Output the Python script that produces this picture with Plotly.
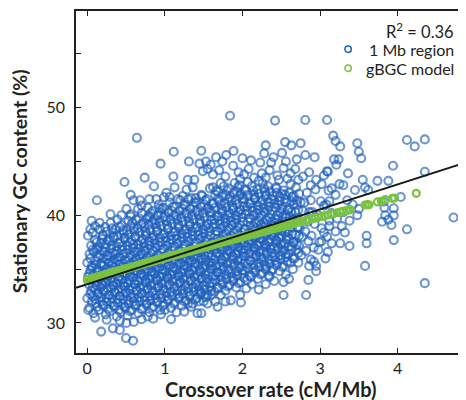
import plotly.graph_objects as go

# ---------------- data ----------------
# dense core of 1 Mb regions, stored column by column: (x values, y values)
core_cols = [
    ([0.03, 0.00, 0.05, 0.02, 0.01, 0.04, 0.00, 0.03, 0.05, 0.01],
     [31.4, 32.3, 33.0, 33.6, 34.3, 34.9, 35.6, 36.4, 37.2, 38.1]),
    ([0.08, 0.11, 0.07, 0.10, 0.12, 0.08, 0.06, 0.11, 0.09, 0.12, 0.07],
     [30.9, 31.8, 32.5, 33.1, 33.8, 34.5, 35.1, 35.8, 36.6, 37.5, 38.4]),
    ([0.15, 0.18, 0.14, 0.17, 0.19, 0.15, 0.13, 0.18, 0.16, 0.14, 0.19, 0.16],
     [31.2, 32.0, 32.7, 33.3, 33.9, 34.4, 35.0, 35.6, 36.3, 37.0, 37.8, 38.7]),
    ([0.24, 0.21, 0.25, 0.22, 0.20, 0.26, 0.23, 0.21, 0.25, 0.22, 0.24, 0.20, 0.23],
     [30.8, 31.6, 32.3, 32.9, 33.5, 34.1, 34.7, 35.3, 35.9, 36.6, 37.3, 38.1, 38.9]),
    ([0.29, 0.32, 0.28, 0.31, 0.33, 0.27, 0.30, 0.32, 0.28, 0.31, 0.29, 0.33, 0.30],
     [31.1, 31.9, 32.6, 33.2, 33.8, 34.4, 35.0, 35.6, 36.2, 36.9, 37.6, 38.4, 39.3]),
    ([0.38, 0.35, 0.39, 0.36, 0.34, 0.40, 0.37, 0.35, 0.39, 0.36, 0.38, 0.34, 0.37, 0.39],
     [30.6, 31.5, 32.2, 32.8, 33.4, 34.0, 34.6, 35.2, 35.8, 36.4, 37.1, 37.9, 38.7, 39.6]),
    ([0.43, 0.46, 0.42, 0.45, 0.47, 0.41, 0.44, 0.46, 0.42, 0.45, 0.43, 0.47, 0.44],
     [31.0, 31.8, 32.5, 33.1, 33.7, 34.3, 34.9, 35.5, 36.1, 36.8, 37.5, 38.3, 39.1]),
    ([0.52, 0.49, 0.53, 0.50, 0.48, 0.54, 0.51, 0.49, 0.53, 0.50, 0.52, 0.48, 0.51, 0.53],
     [30.7, 31.4, 32.1, 32.8, 33.4, 34.0, 34.6, 35.2, 35.8, 36.5, 37.2, 37.9, 38.6, 39.5]),
    ([0.57, 0.60, 0.56, 0.59, 0.61, 0.55, 0.58, 0.60, 0.56, 0.59, 0.57, 0.61, 0.58, 0.56],
     [31.2, 32.0, 32.7, 33.3, 33.9, 34.5, 35.1, 35.7, 36.3, 37.0, 37.7, 38.5, 39.3, 40.1]),
    ([0.66, 0.63, 0.67, 0.64, 0.62, 0.68, 0.65, 0.63, 0.67, 0.64, 0.66, 0.62, 0.65, 0.67],
     [30.9, 31.7, 32.4, 33.0, 33.6, 34.2, 34.8, 35.4, 36.0, 36.6, 37.3, 38.0, 38.8, 39.7]),
    ([0.71, 0.74, 0.70, 0.73, 0.75, 0.69, 0.72, 0.74, 0.70, 0.73, 0.71, 0.75, 0.72, 0.70],
     [31.3, 32.1, 32.8, 33.4, 34.0, 34.6, 35.2, 35.8, 36.4, 37.1, 37.8, 38.5, 39.3, 40.2]),
    ([0.80, 0.77, 0.81, 0.78, 0.76, 0.82, 0.79, 0.77, 0.81, 0.78, 0.80, 0.76, 0.79, 0.81, 0.78],
     [31.0, 31.8, 32.5, 33.2, 33.8, 34.4, 35.0, 35.6, 36.2, 36.9, 37.6, 38.3, 39.1, 39.9, 40.7]),
    ([0.85, 0.88, 0.84, 0.87, 0.89, 0.83, 0.86, 0.88, 0.84, 0.87, 0.85, 0.89, 0.86, 0.84],
     [31.5, 32.3, 33.0, 33.6, 34.2, 34.8, 35.4, 36.0, 36.7, 37.4, 38.1, 38.9, 39.6, 40.4]),
    ([0.94, 0.91, 0.95, 0.92, 0.90, 0.96, 0.93, 0.91, 0.95, 0.92, 0.94, 0.90, 0.93, 0.95, 0.92],
     [31.2, 32.0, 32.7, 33.4, 34.0, 34.6, 35.2, 35.8, 36.5, 37.2, 37.9, 38.6, 39.4, 40.2, 41.0]),
    ([0.99, 1.02, 0.98, 1.01, 1.03, 0.97, 1.00, 1.02, 0.98, 1.01, 0.99, 1.03, 1.00, 0.98],
     [31.7, 32.5, 33.2, 33.8, 34.4, 35.0, 35.6, 36.2, 36.9, 37.6, 38.3, 39.1, 39.9, 40.7]),
    ([1.08, 1.05, 1.09, 1.06, 1.04, 1.10, 1.07, 1.05, 1.09, 1.06, 1.08, 1.04, 1.07, 1.09, 1.06],
     [31.4, 32.2, 32.9, 33.6, 34.2, 34.8, 35.4, 36.0, 36.7, 37.4, 38.1, 38.8, 39.6, 40.4, 41.2]),
    ([1.13, 1.16, 1.12, 1.15, 1.17, 1.11, 1.14, 1.16, 1.12, 1.15, 1.13, 1.17, 1.14, 1.12],
     [31.9, 32.7, 33.4, 34.0, 34.6, 35.2, 35.8, 36.4, 37.1, 37.8, 38.5, 39.2, 40.0, 40.8]),
    ([1.22, 1.19, 1.23, 1.20, 1.18, 1.24, 1.21, 1.19, 1.23, 1.20, 1.22, 1.18, 1.21, 1.23, 1.20],
     [31.6, 32.4, 33.1, 33.8, 34.4, 35.0, 35.6, 36.2, 36.9, 37.6, 38.3, 39.0, 39.8, 40.6, 41.4]),
    ([1.27, 1.30, 1.26, 1.29, 1.31, 1.25, 1.28, 1.30, 1.26, 1.29, 1.27, 1.31, 1.28, 1.26],
     [32.1, 32.9, 33.6, 34.2, 34.8, 35.4, 36.0, 36.6, 37.3, 38.0, 38.7, 39.4, 40.2, 41.0]),
    ([1.36, 1.33, 1.37, 1.34, 1.32, 1.38, 1.35, 1.33, 1.37, 1.34, 1.36, 1.32, 1.35, 1.37, 1.34],
     [31.8, 32.6, 33.3, 34.0, 34.6, 35.2, 35.8, 36.4, 37.1, 37.8, 38.5, 39.2, 40.0, 40.8, 41.6]),
    ([1.41, 1.44, 1.40, 1.43, 1.45, 1.39, 1.42, 1.44, 1.40, 1.43, 1.41, 1.45, 1.42, 1.40],
     [32.3, 33.1, 33.8, 34.4, 35.0, 35.6, 36.2, 36.8, 37.5, 38.2, 38.9, 39.6, 40.4, 41.2]),
    ([1.50, 1.47, 1.51, 1.48, 1.46, 1.52, 1.49, 1.47, 1.51, 1.48, 1.50, 1.46, 1.49, 1.51, 1.48],
     [32.0, 32.8, 33.5, 34.2, 34.8, 35.4, 36.0, 36.6, 37.3, 38.0, 38.7, 39.4, 40.2, 41.0, 41.8]),
    ([1.55, 1.58, 1.54, 1.57, 1.59, 1.53, 1.56, 1.58, 1.54, 1.57, 1.55, 1.59, 1.56, 1.54],
     [32.6, 33.4, 34.1, 34.7, 35.3, 35.9, 36.5, 37.1, 37.8, 38.5, 39.2, 39.9, 40.7, 41.5]),
    ([1.64, 1.61, 1.65, 1.62, 1.60, 1.66, 1.63, 1.61, 1.65, 1.62, 1.64, 1.60, 1.63, 1.65, 1.62],
     [32.9, 33.7, 34.4, 35.0, 35.6, 36.2, 36.8, 37.5, 38.2, 38.9, 39.6, 40.3, 41.1, 41.9, 42.6]),
    ([1.69, 1.72, 1.68, 1.71, 1.73, 1.67, 1.70, 1.72, 1.68, 1.71, 1.69, 1.73, 1.70, 1.68],
     [33.2, 34.0, 34.7, 35.3, 35.9, 36.5, 37.1, 37.8, 38.5, 39.2, 39.9, 40.6, 41.4, 42.2]),
    ([1.78, 1.75, 1.79, 1.76, 1.74, 1.80, 1.77, 1.75, 1.79, 1.76, 1.78, 1.74, 1.77, 1.79, 1.76],
     [33.0, 33.8, 34.5, 35.2, 35.8, 36.4, 37.0, 37.6, 38.3, 39.0, 39.7, 40.4, 41.1, 41.9, 42.7]),
    ([1.83, 1.86, 1.82, 1.85, 1.87, 1.81, 1.84, 1.86, 1.82, 1.85, 1.83, 1.87, 1.84, 1.82],
     [33.5, 34.3, 35.0, 35.6, 36.2, 36.8, 37.4, 38.1, 38.8, 39.5, 40.2, 40.9, 41.7, 42.5]),
    ([1.92, 1.89, 1.93, 1.90, 1.88, 1.94, 1.91, 1.89, 1.93, 1.90, 1.92, 1.88, 1.91, 1.93, 1.90],
     [33.3, 34.1, 34.8, 35.5, 36.1, 36.7, 37.3, 37.9, 38.6, 39.3, 40.0, 40.7, 41.4, 42.2, 43.0]),
    ([1.97, 2.00, 1.96, 1.99, 2.01, 1.95, 1.98, 2.00, 1.96, 1.99, 1.97, 2.01, 1.98, 1.96],
     [33.8, 34.6, 35.3, 35.9, 36.5, 37.1, 37.7, 38.4, 39.1, 39.8, 40.5, 41.2, 42.0, 42.8]),
    ([2.06, 2.03, 2.07, 2.04, 2.02, 2.08, 2.05, 2.03, 2.07, 2.04, 2.06, 2.02, 2.05, 2.07],
     [34.0, 34.8, 35.5, 36.2, 36.8, 37.4, 38.0, 38.7, 39.4, 40.1, 40.8, 41.5, 42.3, 43.1]),
    ([2.11, 2.14, 2.10, 2.13, 2.15, 2.09, 2.12, 2.14, 2.10, 2.13, 2.11, 2.15, 2.12],
     [34.3, 35.1, 35.8, 36.4, 37.0, 37.6, 38.3, 39.0, 39.7, 40.4, 41.1, 41.9, 42.7]),
    ([2.20, 2.17, 2.21, 2.18, 2.16, 2.22, 2.19, 2.17, 2.21, 2.18, 2.20, 2.16, 2.19, 2.21],
     [34.1, 34.9, 35.6, 36.3, 36.9, 37.5, 38.1, 38.8, 39.5, 40.2, 40.9, 41.6, 42.4, 43.2]),
    ([2.25, 2.28, 2.24, 2.27, 2.29, 2.23, 2.26, 2.28, 2.24, 2.27, 2.25, 2.29, 2.26],
     [34.6, 35.4, 36.1, 36.7, 37.3, 37.9, 38.6, 39.3, 40.0, 40.7, 41.4, 42.2, 43.0]),
    ([2.34, 2.31, 2.35, 2.32, 2.30, 2.36, 2.33, 2.31, 2.35, 2.32, 2.34, 2.30, 2.33],
     [34.4, 35.2, 35.9, 36.6, 37.2, 37.8, 38.4, 39.1, 39.8, 40.5, 41.2, 41.9, 42.7]),
    ([2.39, 2.42, 2.38, 2.41, 2.43, 2.37, 2.40, 2.42, 2.38, 2.41, 2.39, 2.43],
     [35.0, 35.8, 36.5, 37.1, 37.7, 38.3, 39.0, 39.7, 40.4, 41.1, 41.8, 42.6]),
    ([2.48, 2.45, 2.49, 2.46, 2.44, 2.50, 2.47, 2.45, 2.49, 2.46, 2.48, 2.44, 2.47],
     [34.8, 35.6, 36.3, 37.0, 37.6, 38.2, 38.9, 39.6, 40.3, 41.0, 41.7, 42.5, 43.3]),
    ([2.53, 2.56, 2.52, 2.55, 2.57, 2.51, 2.54, 2.56, 2.52, 2.55, 2.53],
     [35.3, 36.1, 36.8, 37.4, 38.0, 38.7, 39.4, 40.1, 40.8, 41.5, 42.3]),
    ([2.62, 2.59, 2.63, 2.60, 2.58, 2.64, 2.61, 2.59, 2.63, 2.60, 2.62],
     [35.6, 36.4, 37.1, 37.8, 38.5, 39.2, 39.9, 40.6, 41.3, 42.1, 42.9]),
    ([2.67, 2.70, 2.66, 2.69, 2.71, 2.65, 2.68, 2.70, 2.66, 2.69],
     [36.0, 36.8, 37.5, 38.2, 38.9, 39.6, 40.3, 41.0, 41.8, 42.6]),
    ([2.76, 2.73, 2.77, 2.74, 2.72, 2.78, 2.75, 2.73],
     [36.3, 37.2, 38.0, 38.8, 39.6, 40.4, 41.2, 42.0]),
    ([2.82, 2.85, 2.81, 2.84, 2.86, 2.80, 2.83],
     [36.7, 37.6, 38.5, 39.4, 40.3, 41.2, 42.1]),
    ([2.92, 2.89, 2.93, 2.90, 2.88, 2.94],
     [37.0, 38.1, 39.2, 40.3, 41.4, 42.4]),
    ([2.99, 3.02, 2.98, 3.01], [37.5, 38.8, 40.0, 41.3]),
    ([3.09, 3.12, 3.08, 3.11], [38.0, 39.5, 41.0, 42.3]),
]

# further regions packed inside the darkest part of the cloud
fill_cols = [
    ([0.06, 0.04, 0.07, 0.05, 0.03, 0.06, 0.04, 0.07],
     [32.0, 32.7, 33.3, 34.0, 34.6, 35.3, 36.0, 36.8]),
    ([0.13, 0.11, 0.14, 0.12, 0.10, 0.13, 0.11, 0.14, 0.12, 0.10],
     [31.5, 32.2, 32.8, 33.5, 34.1, 34.8, 35.4, 36.1, 36.9, 37.7]),
    ([0.20, 0.18, 0.21, 0.19, 0.17, 0.20, 0.18, 0.21, 0.19, 0.17, 0.20],
     [31.7, 32.4, 33.0, 33.6, 34.2, 34.8, 35.4, 36.0, 36.7, 37.4, 38.2]),
    ([0.27, 0.25, 0.28, 0.26, 0.24, 0.27, 0.25, 0.28, 0.26, 0.24, 0.27, 0.25],
     [31.3, 32.0, 32.6, 33.2, 33.8, 34.4, 35.0, 35.6, 36.3, 37.0, 37.7, 38.5]),
    ([0.34, 0.32, 0.35, 0.33, 0.31, 0.34, 0.32, 0.35, 0.33, 0.31, 0.34, 0.32],
     [31.6, 32.3, 32.9, 33.5, 34.1, 34.7, 35.3, 35.9, 36.5, 37.2, 38.0, 38.8]),
    ([0.41, 0.39, 0.42, 0.40, 0.38, 0.41, 0.39, 0.42, 0.40, 0.38, 0.41, 0.39, 0.42],
     [31.2, 31.9, 32.5, 33.1, 33.7, 34.3, 34.9, 35.5, 36.1, 36.7, 37.4, 38.1, 38.9]),
    ([0.48, 0.46, 0.49, 0.47, 0.45, 0.48, 0.46, 0.49, 0.47, 0.45, 0.48, 0.46],
     [31.5, 32.2, 32.8, 33.4, 34.0, 34.6, 35.2, 35.8, 36.4, 37.1, 37.8, 38.6]),
    ([0.55, 0.53, 0.56, 0.54, 0.52, 0.55, 0.53, 0.56, 0.54, 0.52, 0.55, 0.53, 0.56],
     [31.1, 31.8, 32.4, 33.1, 33.7, 34.3, 34.9, 35.5, 36.1, 36.8, 37.5, 38.2, 39.0]),
    ([0.62, 0.60, 0.63, 0.61, 0.59, 0.62, 0.60, 0.63, 0.61, 0.59, 0.62, 0.60, 0.63],
     [31.6, 32.3, 33.0, 33.6, 34.2, 34.8, 35.4, 36.0, 36.6, 37.3, 38.0, 38.8, 39.6]),
    ([0.69, 0.67, 0.70, 0.68, 0.66, 0.69, 0.67, 0.70, 0.68, 0.66, 0.69, 0.67, 0.70],
     [31.3, 32.0, 32.7, 33.3, 33.9, 34.5, 35.1, 35.7, 36.3, 36.9, 37.6, 38.4, 39.2]),
    ([0.76, 0.74, 0.77, 0.75, 0.73, 0.76, 0.74, 0.77, 0.75, 0.73, 0.76, 0.74, 0.77],
     [31.7, 32.4, 33.1, 33.7, 34.3, 34.9, 35.5, 36.1, 36.7, 37.4, 38.1, 38.9, 39.7]),
    ([0.83, 0.81, 0.84, 0.82, 0.80, 0.83, 0.81, 0.84, 0.82, 0.80, 0.83, 0.81, 0.84, 0.82],
     [31.4, 32.1, 32.8, 33.5, 34.1, 34.7, 35.3, 35.9, 36.5, 37.2, 37.9, 38.6, 39.4, 40.2]),
    ([0.90, 0.88, 0.91, 0.89, 0.87, 0.90, 0.88, 0.91, 0.89, 0.87, 0.90, 0.88, 0.91],
     [31.9, 32.6, 33.3, 33.9, 34.5, 35.1, 35.7, 36.3, 37.0, 37.7, 38.5, 39.2, 40.0]),
    ([0.97, 0.95, 0.98, 0.96, 0.94, 0.97, 0.95, 0.98, 0.96, 0.94, 0.97, 0.95, 0.98, 0.96],
     [31.6, 32.3, 33.0, 33.7, 34.3, 34.9, 35.5, 36.1, 36.8, 37.5, 38.2, 39.0, 39.8, 40.6]),
    ([1.04, 1.02, 1.05, 1.03, 1.01, 1.04, 1.02, 1.05, 1.03, 1.01, 1.04, 1.02, 1.05],
     [32.1, 32.8, 33.5, 34.1, 34.7, 35.3, 35.9, 36.5, 37.2, 37.9, 38.7, 39.5, 40.3]),
    ([1.11, 1.09, 1.12, 1.10, 1.08, 1.11, 1.09, 1.12, 1.10, 1.08, 1.11, 1.09, 1.12, 1.10],
     [31.8, 32.5, 33.2, 33.9, 34.5, 35.1, 35.7, 36.3, 37.0, 37.7, 38.4, 39.2, 40.0, 40.8]),
    ([1.18, 1.16, 1.19, 1.17, 1.15, 1.18, 1.16, 1.19, 1.17, 1.15, 1.18, 1.16, 1.19],
     [32.3, 33.0, 33.7, 34.3, 34.9, 35.5, 36.1, 36.7, 37.4, 38.1, 38.8, 39.6, 40.4]),
    ([1.25, 1.23, 1.26, 1.24, 1.22, 1.25, 1.23, 1.26, 1.24, 1.22, 1.25, 1.23, 1.26, 1.24],
     [32.0, 32.7, 33.4, 34.1, 34.7, 35.3, 35.9, 36.5, 37.2, 37.9, 38.6, 39.4, 40.2, 41.0]),
    ([1.32, 1.30, 1.33, 1.31, 1.29, 1.32, 1.30, 1.33, 1.31, 1.29, 1.32, 1.30, 1.33],
     [32.5, 33.2, 33.9, 34.5, 35.1, 35.7, 36.3, 36.9, 37.6, 38.3, 39.0, 39.8, 40.6]),
    ([1.39, 1.37, 1.40, 1.38, 1.36, 1.39, 1.37, 1.40, 1.38, 1.36, 1.39, 1.37, 1.40, 1.38],
     [32.2, 32.9, 33.6, 34.3, 34.9, 35.5, 36.1, 36.7, 37.4, 38.1, 38.8, 39.6, 40.4, 41.2]),
    ([1.46, 1.44, 1.47, 1.45, 1.43, 1.46, 1.44, 1.47, 1.45, 1.43, 1.46, 1.44, 1.47],
     [32.7, 33.4, 34.1, 34.7, 35.3, 35.9, 36.5, 37.1, 37.8, 38.5, 39.2, 40.0, 40.8]),
    ([1.53, 1.51, 1.54, 1.52, 1.50, 1.53, 1.51, 1.54, 1.52, 1.50, 1.53, 1.51, 1.54, 1.52],
     [32.4, 33.1, 33.8, 34.5, 35.1, 35.7, 36.3, 36.9, 37.6, 38.3, 39.0, 39.8, 40.6, 41.4]),
    ([1.60, 1.58, 1.61, 1.59, 1.57, 1.60, 1.58, 1.61, 1.59, 1.57, 1.60, 1.58, 1.61],
     [33.0, 33.7, 34.4, 35.0, 35.6, 36.2, 36.8, 37.4, 38.1, 38.8, 39.5, 40.3, 41.1]),
    ([1.67, 1.65, 1.68, 1.66, 1.64, 1.67, 1.65, 1.68, 1.66, 1.64, 1.67, 1.65, 1.68, 1.66],
     [33.3, 34.0, 34.7, 35.3, 35.9, 36.5, 37.1, 37.8, 38.5, 39.2, 39.9, 40.7, 41.5, 42.3]),
    ([1.74, 1.72, 1.75, 1.73, 1.71, 1.74, 1.72, 1.75, 1.73, 1.71, 1.74, 1.72, 1.75],
     [33.6, 34.3, 35.0, 35.6, 36.2, 36.8, 37.4, 38.1, 38.8, 39.5, 40.2, 41.0, 41.8]),
    ([1.81, 1.79, 1.82, 1.80, 1.78, 1.81, 1.79, 1.82, 1.80, 1.78, 1.81, 1.79, 1.82, 1.80],
     [33.4, 34.1, 34.8, 35.5, 36.1, 36.7, 37.3, 37.9, 38.6, 39.3, 40.0, 40.7, 41.5, 42.3]),
    ([1.88, 1.86, 1.89, 1.87, 1.85, 1.88, 1.86, 1.89, 1.87, 1.85, 1.88, 1.86, 1.89],
     [33.9, 34.6, 35.3, 35.9, 36.5, 37.1, 37.7, 38.4, 39.1, 39.8, 40.5, 41.3, 42.1]),
    ([1.95, 1.93, 1.96, 1.94, 1.92, 1.95, 1.93, 1.96, 1.94, 1.92, 1.95, 1.93, 1.96, 1.94],
     [33.7, 34.4, 35.1, 35.8, 36.4, 37.0, 37.6, 38.2, 38.9, 39.6, 40.3, 41.0, 41.8, 42.6]),
    ([2.02, 2.00, 2.03, 2.01, 1.99, 2.02, 2.00, 2.03, 2.01, 1.99, 2.02, 2.00, 2.03],
     [34.2, 34.9, 35.6, 36.2, 36.8, 37.4, 38.0, 38.7, 39.4, 40.1, 40.8, 41.6, 42.4]),
    ([2.09, 2.07, 2.10, 2.08, 2.06, 2.09, 2.07, 2.10, 2.08, 2.06, 2.09, 2.07],
     [34.4, 35.1, 35.8, 36.5, 37.1, 37.7, 38.3, 39.0, 39.7, 40.4, 41.1, 41.9]),
    ([2.16, 2.14, 2.17, 2.15, 2.13, 2.16, 2.14, 2.17, 2.15, 2.13, 2.16, 2.14],
     [34.7, 35.4, 36.1, 36.7, 37.3, 37.9, 38.6, 39.3, 40.0, 40.7, 41.5, 42.3]),
    ([2.23, 2.21, 2.24, 2.22, 2.20, 2.23, 2.21, 2.24, 2.22, 2.20, 2.23, 2.21],
     [34.5, 35.2, 35.9, 36.6, 37.2, 37.8, 38.4, 39.1, 39.8, 40.5, 41.2, 42.0]),
    ([2.30, 2.28, 2.31, 2.29, 2.27, 2.30, 2.28, 2.31, 2.29, 2.27, 2.30, 2.28],
     [35.0, 35.7, 36.4, 37.0, 37.6, 38.2, 38.9, 39.6, 40.3, 41.0, 41.8, 42.5]),
    ([2.37, 2.35, 2.38, 2.36, 2.34, 2.37, 2.35, 2.38, 2.36, 2.34, 2.37, 2.35],
     [34.8, 35.5, 36.2, 36.9, 37.5, 38.1, 38.7, 39.4, 40.1, 40.8, 41.5, 42.2]),
    ([2.44, 2.42, 2.45, 2.43, 2.41, 2.44, 2.42, 2.45, 2.43, 2.41, 2.44],
     [35.4, 36.1, 36.8, 37.4, 38.0, 38.6, 39.3, 40.0, 40.7, 41.4, 42.1]),
    ([2.51, 2.49, 2.52, 2.50, 2.48, 2.51, 2.49, 2.52, 2.50, 2.48, 2.51],
     [35.2, 35.9, 36.6, 37.3, 37.9, 38.5, 39.2, 39.9, 40.6, 41.3, 42.0]),
    ([2.58, 2.56, 2.59, 2.57, 2.55, 2.58, 2.56, 2.59, 2.57, 2.55],
     [35.7, 36.4, 37.1, 37.7, 38.4, 39.1, 39.8, 40.5, 41.2, 41.9]),
    ([2.65, 2.63, 2.66, 2.64, 2.62, 2.65, 2.63, 2.66, 2.64],
     [36.0, 36.8, 37.5, 38.2, 38.9, 39.6, 40.3, 41.0, 41.7]),
    ([2.72, 2.70, 2.73, 2.71, 2.69, 2.72, 2.70],
     [36.5, 37.3, 38.1, 38.9, 39.7, 40.5, 41.4]),
]

# sparse regions above the core
upper_pts = [
    (0.124, 41.4), (0.56, 41.9), (0.595, 41.4), (0.68, 41.4), (0.505, 40.6), (0.655, 40.6),
    (0.80, 41.5), (0.89, 41.5), (0.99, 41.7), (1.06, 41.7), (1.17, 41.5), (1.23, 41.8),
    (1.30, 41.5), (1.40, 41.6), (1.47, 41.9), (0.86, 42.7), (1.125, 42.6), (1.28, 42.4),
    (1.36, 42.6), (0.48, 43.1), (0.74, 43.5), (1.11, 43.6), (1.295, 43.3), (1.38, 43.3),
    (0.945, 44.8), (1.445, 44.8), (1.49, 44.1), (1.31, 45.0), (1.115, 45.9), (1.47, 46.0),
    (0.64, 47.2), (0.056, 39.5), (0.16, 39.3), (0.56, 39.9), (0.79, 39.9), (0.93, 40.65),
    (0.04, 38.7), (0.10, 39.0), (0.30, 40.1), (0.44, 40.0), (0.70, 40.9), (1.02, 42.1),
    (1.84, 49.25), (2.42, 48.8), (2.81, 48.85), (3.09, 48.85), (1.79, 45.6), (1.885, 45.97),
    (1.74, 45.0), (2.30, 46.5), (2.55, 46.8), (2.75, 46.7), (2.63, 46.5), (2.28, 45.75),
    (2.51, 45.8), (2.81, 45.6), (2.93, 45.4), (2.11, 45.1), (2.23, 44.9), (2.37, 44.9),
    (2.56, 45.0), (1.53, 45.0), (3.09, 44.1), (1.55, 44.3), (1.62, 43.8), (1.70, 44.2),
    (1.78, 43.6), (1.95, 44.0), (2.02, 43.8), (2.08, 44.3), (2.15, 43.5), (2.25, 43.9),
    (2.35, 44.2), (2.45, 43.7), (2.53, 44.4), (2.62, 43.9), (2.68, 44.3), (2.78, 43.6),
    (2.86, 44.0), (2.95, 43.3), (3.02, 42.9), (2.72, 43.3), (2.88, 42.8), (3.05, 43.7),
    (1.88, 44.6), (2.00, 45.3), (2.40, 45.4), (2.70, 45.2), (1.66, 45.4), (1.59, 44.7),
    (1.58, 42.5), (1.72, 43.0), (1.97, 43.4), (2.30, 43.5), (2.58, 43.4),
]

# sparse regions to the right of the core
right_pts = [
    (3.17, 47.4), (3.20, 46.9), (3.48, 46.7), (4.12, 47.0), (4.22, 46.4), (4.35, 47.05),
    (3.26, 46.4), (3.50, 45.9), (3.53, 45.3), (3.18, 45.2), (3.24, 45.2), (3.21, 44.7),
    (3.10, 44.05), (3.36, 43.9), (3.94, 44.6), (4.35, 44.05), (3.55, 43.3), (3.74, 43.2),
    (3.88, 43.2), (3.30, 42.8), (3.45, 42.35), (3.58, 42.6), (3.62, 42.35), (4.04, 41.7),
    (3.15, 42.5), (3.20, 41.9), (3.25, 42.9), (3.12, 41.3), (3.82, 41.26), (3.83, 40.7),
    (3.95, 40.65), (3.50, 40.6), (3.48, 40.0), (3.84, 40.0), (3.95, 40.0), (3.80, 39.4),
    (4.72, 39.8), (4.12, 38.7), (3.88, 39.6), (3.92, 39.1), (3.60, 38.1), (3.60, 37.4),
    (3.95, 37.7), (3.38, 37.15), (3.26, 37.4), (3.15, 37.4), (3.58, 35.3), (4.35, 33.7),
    (3.07, 36.0), (3.20, 38.5), (3.28, 39.0), (3.22, 39.7), (3.15, 40.2), (3.32, 38.4),
    (3.38, 39.5), (3.12, 39.0), (3.05, 38.4), (3.30, 40.3), (3.35, 41.4), (3.42, 41.0),
    (3.05, 40.9), (2.98, 36.8), (3.10, 36.6), (2.95, 35.3), (2.88, 35.9), (3.02, 37.6),
]

# sparse regions below the core
lower_pts = [
    (0.18, 29.2), (0.33, 29.5), (0.42, 29.35), (0.50, 28.6), (0.59, 28.35), (0.013, 31.2),
    (0.85, 30.4), (1.08, 30.35), (1.42, 30.9), (0.70, 30.35), (1.00, 31.2), (1.25, 31.05),
    (1.34, 31.5), (0.505, 30.0), (0.42, 30.2), (0.25, 30.3), (0.10, 30.5), (1.98, 31.9),
    (1.85, 32.1), (1.78, 32.0), (1.97, 32.6), (2.21, 33.1), (2.53, 32.6), (2.82, 32.6),
    (2.41, 33.9), (2.53, 33.8), (2.85, 34.0), (2.56, 34.5), (2.95, 34.8), (2.86, 35.3),
    (2.92, 35.7), (1.47, 30.9), (1.44, 32.0), (1.60, 32.6), (1.52, 32.6), (1.45, 32.9),
    (1.65, 32.0), (1.72, 32.6), (2.05, 33.2), (2.12, 33.6), (2.30, 33.6), (2.35, 34.3),
    (2.65, 35.0), (2.72, 35.6), (2.60, 34.1), (0.60, 30.1), (0.78, 30.6), (0.95, 30.8),
    (1.15, 31.0), (1.30, 31.8), (1.55, 31.8), (1.68, 31.5),
]

# gBGC model predictions
model_x = [0.00, 0.03, 0.06, 0.09, 0.12, 0.15, 0.18, 0.21, 0.24, 0.27, 0.30, 0.33, 0.36, 0.39,
           0.42, 0.45, 0.48, 0.51, 0.54, 0.57, 0.60, 0.63, 0.66, 0.69, 0.72, 0.75, 0.78, 0.81,
           0.84, 0.87, 0.90, 0.93, 0.96, 0.99, 1.02, 1.05, 1.08, 1.11, 1.14, 1.17, 1.20, 1.23,
           1.26, 1.29, 1.32, 1.35, 1.38, 1.41, 1.44, 1.47, 1.50, 1.53, 1.56, 1.59, 1.62, 1.65,
           1.68, 1.71, 1.74, 1.77, 1.80, 1.83, 1.86, 1.89, 1.92, 1.95, 1.98, 2.01, 2.04, 2.07,
           2.10, 2.13, 2.16, 2.19, 2.22, 2.25, 2.28, 2.31, 2.34, 2.37, 2.40, 2.43, 2.46, 2.49,
           2.52, 2.55, 2.58, 2.61, 2.64, 2.67, 2.70, 2.74, 2.78, 2.82, 2.86, 2.90, 2.94, 2.98,
           3.02, 3.06, 3.10, 3.14, 3.18, 3.22, 3.26, 3.30, 3.34, 3.37, 3.39, 3.58, 3.61, 3.63,
           3.74, 3.79, 3.84, 3.93, 3.96, 4.24]
model_y = [34.00, 34.06, 34.13, 34.19, 34.25, 34.31, 34.38, 34.44, 34.50, 34.56, 34.63, 34.69,
           34.75, 34.81, 34.87, 34.94, 35.00, 35.06, 35.12, 35.18, 35.24, 35.30, 35.36, 35.43,
           35.49, 35.55, 35.61, 35.67, 35.73, 35.79, 35.85, 35.91, 35.97, 36.03, 36.09, 36.15,
           36.21, 36.27, 36.33, 36.39, 36.45, 36.51, 36.57, 36.63, 36.68, 36.74, 36.80, 36.86,
           36.92, 36.98, 37.04, 37.09, 37.15, 37.21, 37.27, 37.33, 37.39, 37.44, 37.50, 37.56,
           37.62, 37.68, 37.73, 37.79, 37.85, 37.91, 37.96, 38.02, 38.08, 38.13, 38.19, 38.25,
           38.30, 38.36, 38.42, 38.47, 38.53, 38.58, 38.64, 38.70, 38.75, 38.81, 38.86, 38.92,
           38.97, 39.03, 39.09, 39.14, 39.20, 39.25, 39.31, 39.38, 39.46, 39.53, 39.60, 39.67,
           39.74, 39.81, 39.88, 39.95, 40.03, 40.10, 40.17, 40.24, 40.31, 40.38, 40.44, 40.50,
           40.53, 40.96, 41.00, 40.98, 41.24, 41.30, 41.45, 41.58, 41.60, 42.04]

# regression line end points (x range of the axis)
fit_x = [-0.145, 4.855]
fit_y = [33.26, 44.86]

x_ticks = [0, 1, 2, 3, 4]
y_ticks = [30, 40, 50]
r2_text = "R<sup>2</sup>&nbsp;=&nbsp;0.36"
legend_labels = ["1 Mb region", "gBGC model"]

# ---------------- assemble ----------------
blue_x, blue_y = [], []
for xs, ys in core_cols + fill_cols:
    blue_x.extend(xs)
    blue_y.extend(ys)
for pts in (upper_pts, right_pts, lower_pts):
    for px, py in pts:
        blue_x.append(px)
        blue_y.append(py)

BLUE = "rgba(30,96,188,0.66)"
GREEN = "rgb(122,194,66)"
INK = "#231f20"
FONT = "Lato"

fig = go.Figure()
fig.add_trace(go.Scatter(
    x=blue_x, y=blue_y, mode="markers", showlegend=False,
    marker=dict(symbol="circle-open", size=8, color=BLUE, line=dict(width=2.1)),
))
fig.add_trace(go.Scatter(
    x=model_x, y=model_y, mode="markers", showlegend=False,
    marker=dict(symbol="circle-open", size=7, color=GREEN, line=dict(width=2.2)),
))
fig.add_trace(go.Scatter(
    x=fit_x, y=fit_y, mode="lines", showlegend=False,
    line=dict(color="#1a1a1a", width=2),
))

# the page body has an 8 px margin, so the figure starts at (8, 8) of the window
OFF = 8
W, H = 466 - OFF, 400 - OFF
L, R, T, B = 76 - OFF, 0, 11 - OFF, 400 - 353
pw, ph = W - L - R, H - T - B


def px2paper_x(px):  # px measured in the window
    return (px - OFF - L) / pw


def px2paper_y(py):
    return 1 - (py - OFF - T) / ph


annotations = [
    dict(text="Crossover rate (cM/Mb)", xref="paper", yref="paper",
         x=px2paper_x(271.5), y=px2paper_y(388.5), xanchor="center", yanchor="middle",
         showarrow=False, font=dict(family=FONT, size=20, color=INK, weight="bold")),
    dict(text="Stationary GC content (%)", xref="paper", yref="paper",
         x=px2paper_x(19.5), y=px2paper_y(181.5), xanchor="center", yanchor="middle",
         textangle=-90, showarrow=False,
         font=dict(family=FONT, size=19.5, color=INK, weight="bold")),
    dict(text=r2_text, xref="paper", yref="paper", x=px2paper_x(458), y=px2paper_y(31),
         xanchor="right", yanchor="middle", showarrow=False,
         font=dict(family=FONT, size=16.5, color=INK)),
    dict(text=legend_labels[0], xref="paper", yref="paper", x=px2paper_x(458), y=px2paper_y(49.5),
         xanchor="right", yanchor="middle", showarrow=False,
         font=dict(family=FONT, size=16, color=INK)),
    dict(text=legend_labels[1], xref="paper", yref="paper", x=px2paper_x(458), y=px2paper_y(68.5),
         xanchor="right", yanchor="middle", showarrow=False,
         font=dict(family=FONT, size=16, color=INK)),
]

shapes = []
for cy, col in ((49.3, "rgb(30,100,185)"), (68.3, GREEN)):
    shapes.append(dict(
        type="circle", xref="paper", yref="paper", xsizemode="pixel", ysizemode="pixel",
        xanchor=px2paper_x(349.5), yanchor=px2paper_y(cy),
        x0=-3.2, x1=3.2, y0=-3.2, y1=3.2, line=dict(color=col, width=1.5),
    ))

axis_common = dict(
    showgrid=False, zeroline=False, showline=True, linecolor=INK, linewidth=1.6,
    ticks="inside", ticklen=5, tickwidth=1.2, tickcolor=INK, mirror="ticks",
    tickfont=dict(family=FONT, size=16, color=INK),
)

fig.update_layout(
    width=W, height=H,
    margin=dict(l=L, r=R, t=T, b=B, pad=0),
    paper_bgcolor="white", plot_bgcolor="white",
    xaxis=dict(range=[-0.145, 4.855], tickvals=x_ticks, ticklabelstandoff=0, **axis_common),
    yaxis=dict(range=[27.21, 58.98], tickvals=y_ticks, ticklabelstandoff=6,
               minor=dict(dtick=5, tick0=0, ticks="inside", ticklen=5, tickwidth=1.2,
                          tickcolor=INK, showgrid=False),
               **axis_common),
    annotations=annotations,
    shapes=shapes,
)

fig.write_html("out.html")
